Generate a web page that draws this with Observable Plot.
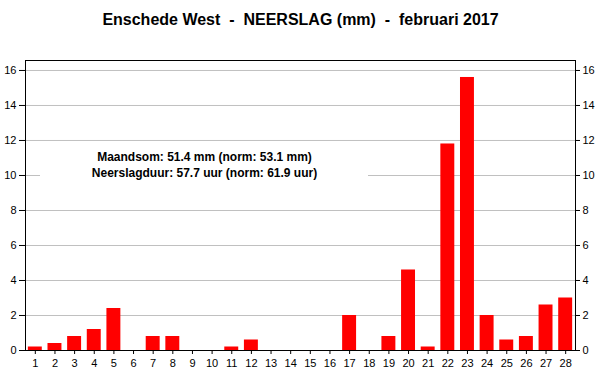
<!DOCTYPE html>
<html>
<head>
<meta charset="utf-8">
<script src="https://cdn.jsdelivr.net/npm/d3@7"></script>
<script src="https://cdn.jsdelivr.net/npm/@observablehq/plot@0.6"></script>
<style>
  html, body { margin: 0; padding: 0; background: #fff; }
  svg { display: block; }
</style>
</head>
<body>
<div id="chart"></div>
<script>
// ---- data ----
const days = [1,2,3,4,5,6,7,8,9,10,11,12,13,14,15,16,17,18,19,20,21,22,23,24,25,26,27,28];
const neerslag = [0.2,0.4,0.8,1.2,2.4,0,0.8,0.8,0,0,0.2,0.6,0,0,0,0,2.0,0,0.8,4.6,0.2,11.8,15.6,2.0,0.6,0.8,2.6,3.0];
const yTicks = [0,2,4,6,8,10,12,14,16];
const gridTicks = [2,4,6,8,10,12,14,16];
const title = "Enschede West \u00a0-\u00a0 NEERSLAG (mm) \u00a0-\u00a0 februari 2017";
const noteLines = ["Maandsom: 51.4 mm (norm: 53.1 mm)", "Neerslagduur: 57.7 uur (norm: 61.9 uur)"];

const table = days.map((d, i) => ({day: d, mm: neerslag[i]}));

const font = "'Liberation Sans', Arial, sans-serif";

const chart = Plot.plot({
  width: 600,
  height: 390,
  marginTop: 60,
  marginBottom: 40,
  marginLeft: 25,
  marginRight: 25,
  style: {fontFamily: font, fontSize: "11px", color: "#000", background: "#fff", overflow: "visible"},
  x: {type: "band", domain: days, paddingInner: 0.29, paddingOuter: 0.145, round: false, label: null},
  y: {domain: [0, 16.57], label: null},
  marks: [
    Plot.gridY(gridTicks, {stroke: "#c0c0c0", strokeOpacity: 1, strokeWidth: 1}),
    Plot.text([noteLines.join("\n")], {
      frameAnchor: "top-left",
      dx: 179,
      dy: 89,
      textAnchor: "middle",
      lineHeight: 1.33,
      fontSize: 12,
      fontWeight: "bold",
      fill: "#000",
      render(index, scales, values, dimensions, context, next) {
        const g = next(index, scales, values, dimensions, context);
        const wrap = d3.create("svg:g");
        wrap.append("rect")
          .attr("x", dimensions.marginLeft + 15)
          .attr("y", dimensions.marginTop + 85)
          .attr("width", 328)
          .attr("height", 40)
          .attr("fill", "#fff");
        wrap.node().appendChild(g);
        return wrap.node();
      }
    }),
    Plot.barY(table, {x: "day", y: "mm", fill: "#ff0000"}),
    Plot.axisY(yTicks, {anchor: "left", tickSize: 6, tickPadding: 3, fontSize: 11, label: null}),
    Plot.axisY(yTicks, {anchor: "right", tickSize: 4, tickPadding: 3, fontSize: 11, label: null}),
    Plot.axisX(days, {anchor: "bottom", tickSize: 4, tickPadding: 5, fontSize: 11, label: null}),
    Plot.frame({stroke: "#000"}),
    Plot.text([title], {frameAnchor: "top", dy: -47, fontSize: 16, fontWeight: "bold", fill: "#000"})
  ]
});

document.getElementById("chart").appendChild(chart);
</script>
</body>
</html>
